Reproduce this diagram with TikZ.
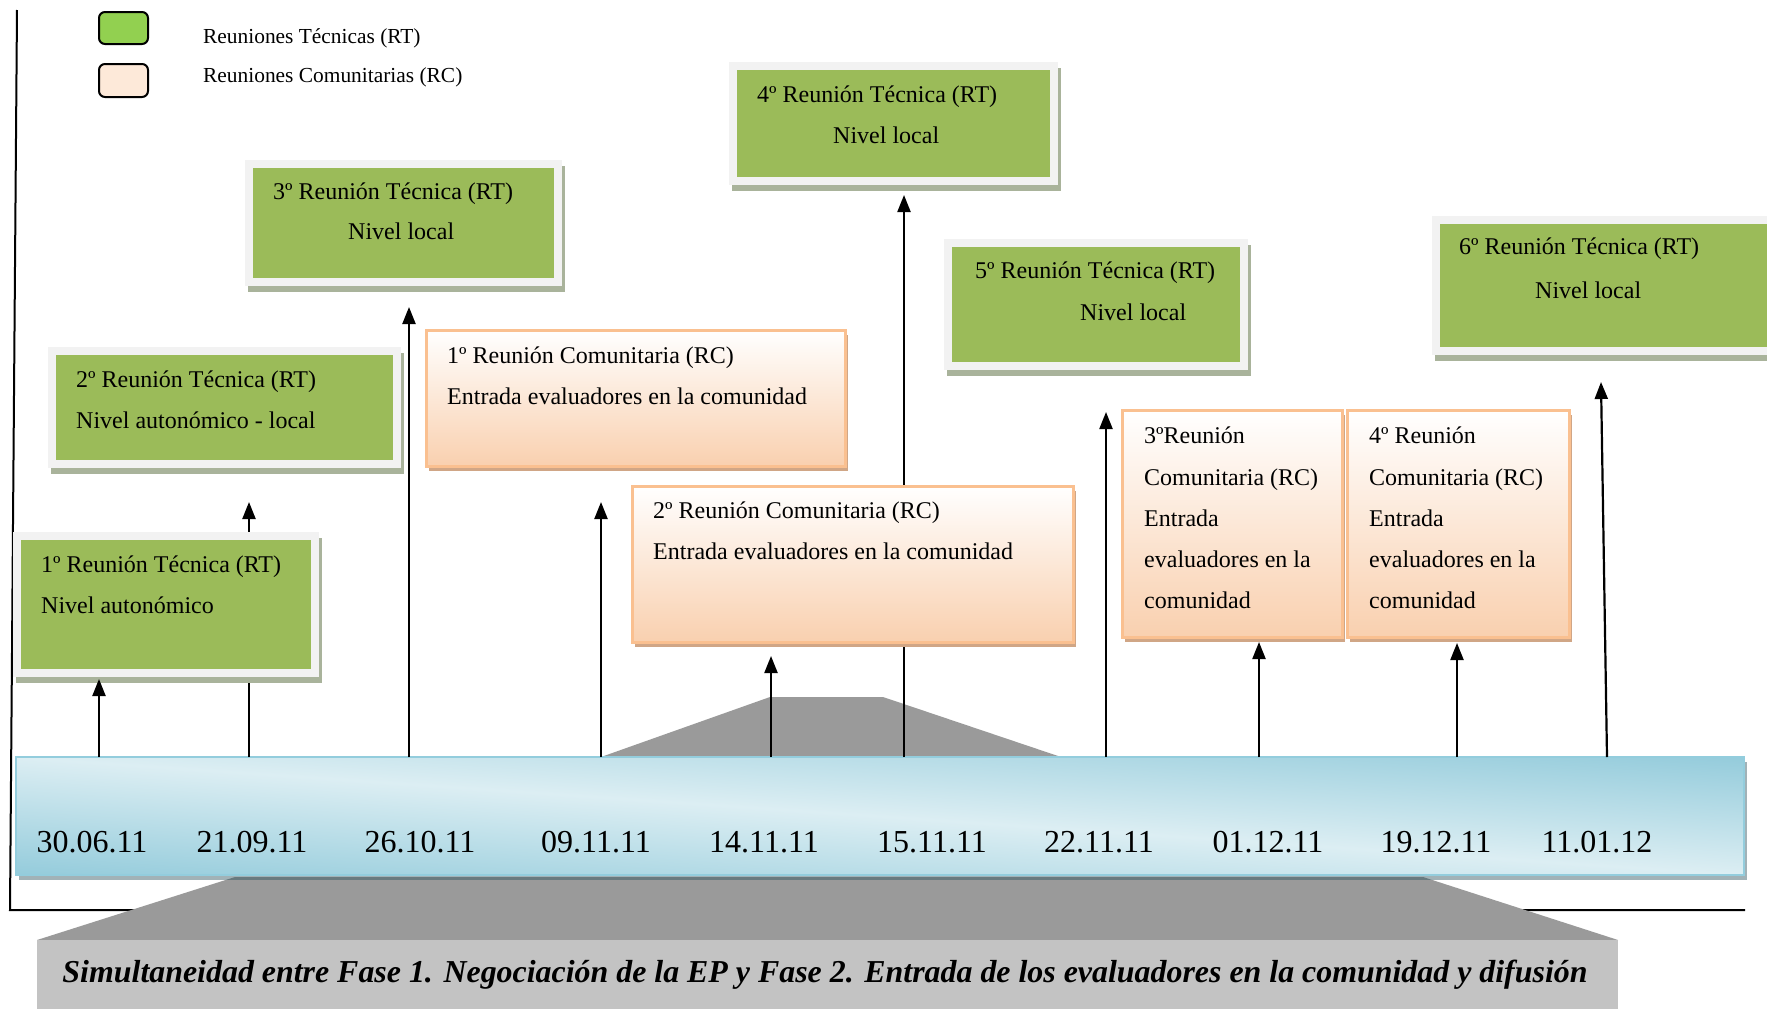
\documentclass[tikz,border=0pt]{standalone}
\usepackage{fontspec}
\setmainfont{Liberation Serif}
\usetikzlibrary{arrows.meta}

\definecolor{rtgreen}{HTML}{9BBB59}
\definecolor{rtframe}{HTML}{F2F2F2}
\definecolor{rtshadow}{HTML}{A9B39B}
\definecolor{rcedge}{HTML}{FAC090}
\definecolor{rcfill}{HTML}{F9D0AF}
\definecolor{rcshadow}{HTML}{D0A686}
\definecolor{legendgreen}{HTML}{92D050}
\definecolor{legendpeach}{HTML}{FDE9D9}
\definecolor{banddark}{HTML}{93CBDB}
\definecolor{bandmid}{HTML}{DCEEF3}
\definecolor{bandedge}{HTML}{93CDDD}
\definecolor{bandshadow}{HTML}{2F5560}
\definecolor{phasedark}{HTML}{9A9A9A}
\definecolor{phaselight}{HTML}{C3C3C3}

% technical meeting box: shadow, light frame, green panel (outer corners given)
\newcommand\rtbox[4]{%
  \fill[rtshadow] (#1+3,#2+6) rectangle (#3+3,#4+6);
  \fill[rtframe] (#1,#2) rectangle (#3,#4);
  \fill[rtgreen] (#1+8,#2+8) rectangle (#3-8,#4-8);}
% community meeting box: shadow and white-to-peach panel
\newcommand\rcbox[4]{%
  \fill[rcshadow] (#1+3,#2+5) rectangle (#3+3,#4+5);
  \shadedraw[top color=white, bottom color=rcfill, draw=rcedge, line width=3pt]
    (#1,#2) rectangle (#3,#4);}

\tikzset{
  boxtext/.style={font=\fontsize{24}{29}\selectfont, inner sep=0pt, anchor=base west},
  legtext/.style={font=\fontsize{21.4}{25}\selectfont, inner sep=0pt, anchor=base west},
  datetext/.style={font=\fontsize{32}{37}\selectfont, inner sep=0pt, anchor=base},
  evarrow/.style={line width=2.2pt, -{Triangle[length=17pt,width=13pt]}},
  axisline/.style={line width=2pt},
  legbox/.style={draw=black, line width=2pt, rounded corners=6pt},
}

\begin{document}
\begin{tikzpicture}[x=1pt, y=-1pt]
\clip (0,0) rectangle (1767,1009);
\fill[white] (0,0) rectangle (1767,1009);

% axes
\coordinate (axtop) at (17,10);
\coordinate (axcorner) at (10,910);
\coordinate (axend) at (1745,910);
\draw[axisline] (axtop) -- (axcorner) -- (axend);

% phase callout shapes
\fill[phasedark] (770,697) -- (883,697) -- (1061,757) -- (601,757) -- cycle;
\fill[phasedark] (235,877) -- (1423,877) -- (1618,940) -- (37,940) -- cycle;
\fill[phaselight] (37,940) rectangle (1618,1012);

% time band with its shadow; the light streak runs along the band's diagonal
\fill[bandshadow, opacity=0.45] (19,762) rectangle (1747,880);
\begin{scope}
  \clip (16,757) rectangle (1744,875);
  \begin{scope}[transform canvas={cm={1,-0.06829,0,1,(0,0)}}]
    \shade[top color=banddark, bottom color=banddark, middle color=bandmid]
      (0,636) rectangle (1767,876);
  \end{scope}
\end{scope}
\draw[bandedge, line width=1.2pt] (16,757) rectangle (1744,875);

% tick coordinates on the band and arrow tips
\foreach \n/\x in {1/99,2/249,3/409,4/601,5/771,6/904,7/1106,8/1259,9/1457}
  \coordinate (b\n) at (\x,757);
\coordinate (b10) at (1607,757);
\coordinate (t1) at (99,679);
\coordinate (t2) at (249,502);
\coordinate (t3) at (409,307);
\coordinate (t4) at (601,502);
\coordinate (t5) at (771,656);
\coordinate (t6) at (904,195);
\coordinate (t7) at (1106,412);
\coordinate (t8) at (1259,642);
\coordinate (t9) at (1457,643);
\coordinate (t10) at (1601,382);

% arrows that run behind boxes
\draw[evarrow] (b2) -- (t2);
\draw[evarrow] (b6) -- (t6);
\draw[evarrow] (b3) -- (t3);
\draw[evarrow] (b4) -- (t4);
\draw[evarrow] (b7) -- (t7);
\draw[evarrow] (b10) -- (t10);

% legend
\draw[legbox, fill=legendgreen] (99,12) rectangle (148,44);
\draw[legbox, fill=legendpeach] (99,64) rectangle (148,97);
\node[legtext] (legrt) at (203,43) {Reuniones Técnicas (RT)};
\node[legtext] (legrc) at (203,82) {Reuniones Comunitarias (RC)};

% technical meetings
\rtbox{13}{532}{319}{677}
\rtbox{48}{347}{401}{468}
\rtbox{245}{160}{562}{286}
\rtbox{729}{62}{1058}{185}
\rtbox{944}{239}{1248}{370}
\rtbox{1432}{216}{1790}{355}

% community meetings
\rcbox{426}{330}{845}{466}
\rcbox{632}{486}{1073}{642}
\rcbox{1122}{410}{1342}{637}
\rcbox{1347}{410}{1569}{637}

% arrows ending at box edges
\draw[evarrow] (b1) -- (t1);
\draw[evarrow] (b5) -- (t5);
\draw[evarrow] (b8) -- (t8);
\draw[evarrow] (b9) -- (t9);

% box texts
\node[boxtext] (rt1a) at (41,572) {1º Reunión Técnica (RT)};
\node[boxtext] (rt1b) at (41,613) {Nivel autonómico};
\node[boxtext] (rt2a) at (76,387) {2º Reunión Técnica (RT)};
\node[boxtext] (rt2b) at (76,428) {Nivel autonómico - local};
\node[boxtext] (rt3a) at (273,199) {3º Reunión Técnica (RT)};
\node[boxtext] (rt3b) at (348,239) {Nivel local};
\node[boxtext] (rt4a) at (757,102) {4º Reunión Técnica (RT)};
\node[boxtext] (rt4b) at (833,143) {Nivel local};
\node[boxtext] (rt5a) at (975,278) {5º Reunión Técnica (RT)};
\node[boxtext] (rt5b) at (1080,320) {Nivel local};
\node[boxtext] (rt6a) at (1459,254) {6º Reunión Técnica (RT)};
\node[boxtext] (rt6b) at (1535,298) {Nivel local};

\node[boxtext] (rc1a) at (447,363) {1º Reunión Comunitaria (RC)};
\node[boxtext] (rc1b) at (447,404) {Entrada evaluadores en la comunidad};
\node[boxtext] (rc2a) at (653,518) {2º Reunión Comunitaria (RC)};
\node[boxtext] (rc2b) at (653,559) {Entrada evaluadores en la comunidad};

\node[boxtext] (rc3a) at (1144,443) {3ºReunión};
\node[boxtext] (rc3b) at (1144,485) {Comunitaria (RC)};
\node[boxtext] (rc3c) at (1144,526) {Entrada};
\node[boxtext] (rc3d) at (1144,567) {evaluadores en la};
\node[boxtext] (rc3e) at (1144,608) {comunidad};
\node[boxtext] (rc4a) at (1369,443) {4º Reunión};
\node[boxtext] (rc4b) at (1369,485) {Comunitaria (RC)};
\node[boxtext] (rc4c) at (1369,526) {Entrada};
\node[boxtext] (rc4d) at (1369,567) {evaluadores en la};
\node[boxtext] (rc4e) at (1369,608) {comunidad};

% dates on the band
\foreach \n/\x/\d in {1/92/30.06.11, 2/252/21.09.11, 3/420/26.10.11, 4/596/09.11.11,
  5/764/14.11.11, 6/932/15.11.11, 7/1099/22.11.11, 8/1268/01.12.11,
  9/1436/19.12.11, 10/1597/11.01.12}
  \node[datetext] (d\n) at (\x,852) {\d};

% phase caption
\node[font=\fontsize{31.9}{38}\selectfont\bfseries\itshape, inner sep=0pt, anchor=base]
  (caption) at (825,982)
  {Simultaneidad entre Fase 1. Negociación de la EP y Fase 2. Entrada de los evaluadores en la comunidad y difusión};
\end{tikzpicture}
\end{document}
